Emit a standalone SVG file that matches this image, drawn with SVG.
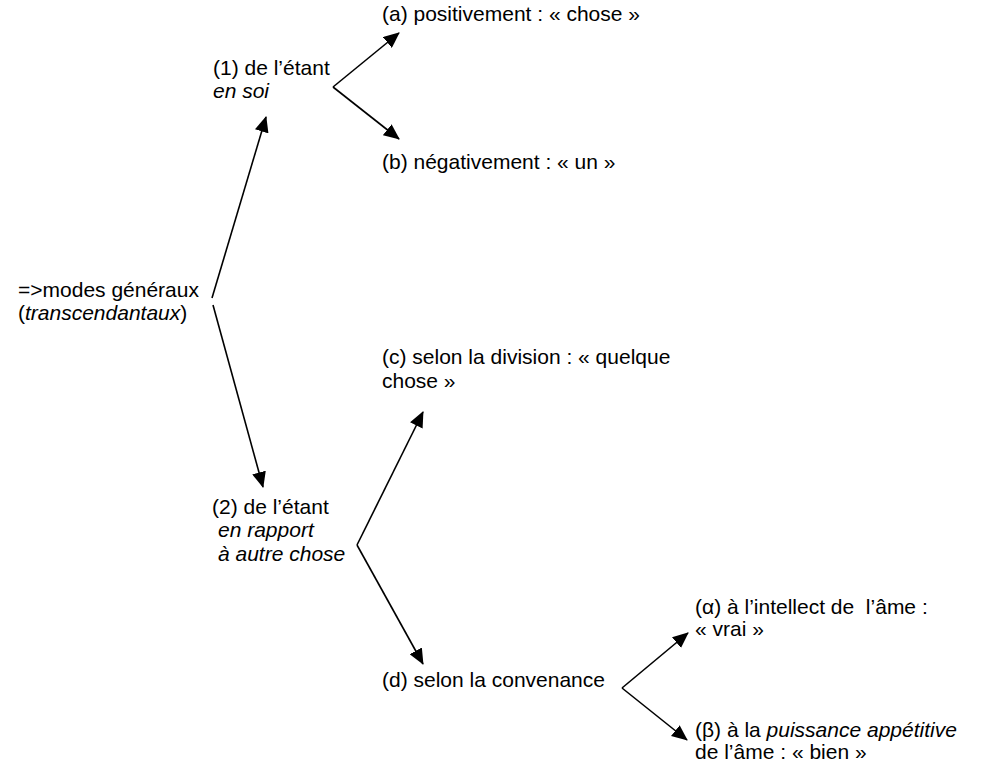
<svg xmlns="http://www.w3.org/2000/svg" width="984" height="765" viewBox="0 0 984 765">
<style>
text{font-family:"Liberation Sans",Arial,sans-serif;font-size:21px;fill:#000}
.i{font-style:italic}
.c line{stroke:#000;stroke-width:1.6;marker-end:url(#ah)}
</style>
<defs>
<marker id="ah" viewBox="0 0 16 14" refX="15" refY="7" markerWidth="16" markerHeight="14" markerUnits="userSpaceOnUse" orient="auto">
<path d="M0,0 L16,7 L0,14 z" fill="#000"/>
</marker>
</defs>
<rect width="984" height="765" fill="#fff"/>
<g class="c" id="connectors">
<line x1="212" y1="298" x2="266" y2="117"/>
<line x1="213" y1="305" x2="263" y2="487"/>
<line x1="333" y1="87" x2="399" y2="33"/>
<line x1="333" y1="87" x2="399" y2="139"/>
<line x1="357" y1="545" x2="423" y2="412"/>
<line x1="357" y1="545" x2="423" y2="664"/>
<line x1="622" y1="688" x2="688" y2="633"/>
<line x1="622" y1="688" x2="687" y2="740"/>
</g>
<g id="root"><text x="18" y="297">=&gt;modes généraux</text><text x="18" y="320">(<tspan class="i">transcendantaux</tspan>)</text></g>
<g id="n1"><text x="213" y="75">(1) de l’étant</text><text x="213" y="98" class="i">en soi</text></g>
<g id="na"><text x="382" y="21">(a) positivement : « chose »</text></g>
<g id="nb"><text x="382" y="169">(b) négativement : « un »</text></g>
<g id="n2"><text x="212" y="514">(2) de l’étant</text><text x="218" y="537" class="i">en rapport</text><text x="218" y="561" class="i">à autre chose</text></g>
<g id="nc"><text x="382" y="364">(c) selon la division : « quelque</text><text x="382" y="388">chose »</text></g>
<g id="nd"><text x="382" y="687">(d) selon la convenance</text></g>
<g id="nalpha"><text x="695" y="614">(α) à l’intellect de&#160; l’âme :</text><text x="695" y="636">« vrai »</text></g>
<g id="nbeta"><text x="695" y="737">(β) à la <tspan class="i">puissance appétitive</tspan></text><text x="695" y="759">de l’âme : « bien »</text></g>
</svg>
